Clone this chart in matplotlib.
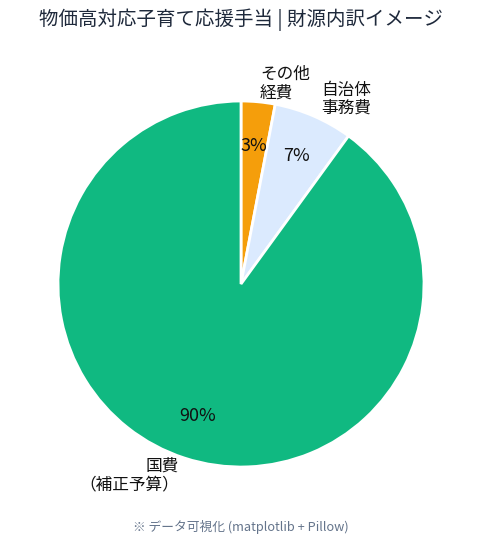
import matplotlib.pyplot as plt

plt.rcParams['font.family'] = ['Noto Sans CJK JP', 'DejaVu Sans']

labels = ['その他\n経費', '自治体\n事務費', '国費\n（補正予算）']
shares = [3, 7, 90]
colors = ['#F59E0B', '#DBEAFE', '#10B981']

fig = plt.figure(figsize=(4.82, 5.47), dpi=100)
ax = fig.add_axes([58/482, 80/547, 366/482, 366/547])

wedges, texts, autotexts = ax.pie(
    shares, labels=labels, colors=colors, startangle=90, counterclock=False,
    autopct='%d%%', pctdistance=0.76, labeldistance=1.1,
    wedgeprops=dict(edgecolor='white', linewidth=2))
for t in texts:
    t.set_fontsize(12)
    t.set_color('#111111')
    t.set_linespacing(1.1)
for t in autotexts:
    t.set_fontsize(13)
    t.set_color('#111111')
ax.set_xlim(-1, 1)
ax.set_ylim(-1, 1)
ax.set_aspect('equal')

fig.text(0.5, 1 - 20/547, '物価高対応子育て応援手当 | 財源内訳イメージ',
         ha='center', va='center', fontsize=14, color='#1E293B')
fig.text(0.5, 1 - 527/547, '※ データ可視化 (matplotlib + Pillow)',
         ha='center', va='center', fontsize=9.2, color='#64748B')

fig.savefig('out.png', dpi=100)
